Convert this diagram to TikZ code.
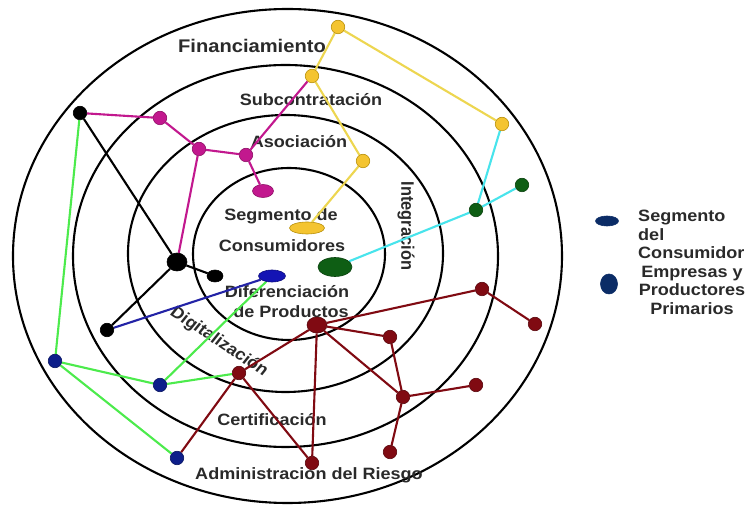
\documentclass[tikz,border=0pt]{standalone}
\usepackage{fontspec}
\setmainfont{Liberation Sans}
\usetikzlibrary{shapes.geometric}
\pgfdeclarelayer{back}
\pgfdeclarelayer{mid}
\pgfsetlayers{back,mid,main}
\definecolor{ylw}{HTML}{F4C430}
\definecolor{ylwd}{HTML}{B8900A}
\definecolor{ylwl}{HTML}{EDD650}
\definecolor{mag}{HTML}{C2188E}
\definecolor{magd}{HTML}{8E0F66}
\definecolor{grnl}{HTML}{4CEB4C}
\definecolor{cyn}{HTML}{48E4EC}
\definecolor{dgr}{HTML}{0E5E14}
\definecolor{nav}{HTML}{0D1E8A}
\definecolor{blul}{HTML}{2323A6}
\definecolor{blue2}{HTML}{1414B4}
\definecolor{dred}{HTML}{800A12}
\definecolor{lgn}{HTML}{0B2C66}
\definecolor{txtc}{HTML}{2A2A2A}
\tikzset{
  ring/.style={draw=black, line width=2.1pt},
  lbl/.style={font=\bfseries\fontsize{16.4}{18.5}\selectfont, text=txtc, xscale=1.1, inner sep=0pt},
  dot/.style={circle, inner sep=0pt, minimum size=13.5pt, line width=0.6pt},
  ell/.style={ellipse, inner sep=0pt, line width=0.6pt},
  yn/.style={fill=ylw, draw=ylwd},
  mn/.style={fill=mag, draw=magd},
  kn/.style={fill=black, draw=black},
  gn/.style={fill=dgr, draw=dgr!70!black},
  bn/.style={fill=nav, draw=nav!70!black},
  rn/.style={fill=dred, draw=dred!70!black},
  yl/.style={draw=ylwl, line width=2.1pt},
  ml/.style={draw=mag, line width=2.1pt},
  kl/.style={draw=black, line width=2.1pt},
  bl/.style={draw=blul, line width=2.1pt},
  gl/.style={draw=grnl, line width=2.1pt},
  cl/.style={draw=cyn, line width=2.1pt},
  rl/.style={draw=dred, line width=2.1pt}
}
\begin{document}
\begin{tikzpicture}[x=1pt,y=-1pt]
\useasboundingbox (0,0) rectangle (748,510);

\begin{pgfonlayer}{back}
\fill[white] (0,0) rectangle (748,510);
\draw[ring] (287.5,256) ellipse [x radius=274.5pt, y radius=247pt];
\draw[ring] (285.5,256) ellipse [x radius=212.5pt, y radius=191pt];
\draw[ring] (285.5,253.5) ellipse [x radius=157.5pt, y radius=138.5pt];
\draw[ring] (289,254) ellipse [x radius=96pt, y radius=86pt];

\node[lbl, font=\bfseries\fontsize{18.3}{20}\selectfont, anchor=base] (t1) at (252,53) {Financiamiento};
\node[lbl, anchor=base] (t2) at (311,106) {Subcontratación};
\node[lbl, anchor=base] (t3) at (299,148) {Asociación};
\node[lbl, anchor=base] (t4) at (281,221) {Segmento de};
\node[lbl, anchor=base] (t5) at (282,252) {Consumidores};
\node[lbl, anchor=base] (t6) at (287,298) {Diferenciación};
\node[lbl, anchor=base] (t7) at (291,318) {de Productos};
\node[lbl, anchor=base] (t8) at (272,426) {Certificación};
\node[lbl, anchor=base] (t9) at (309,480) {Administracion del Riesgo};
\node[lbl, rotate=-90, anchor=center] (t10) at (406,226) {Integración};
\node[lbl, rotate=-36, anchor=center] (t11) at (219,342) {Digitalización};

\node[lbl, align=left, anchor=north west] (lt1) at (638,210) {Segmento\\del\\Consumidor};
\node[lbl, align=center, anchor=north] (lt2) at (692,266) {Empresas y\\Productores\\Primarios};
\end{pgfonlayer}

% nodes
\node[dot, yn] (Y1) at (338,27) {};
\node[dot, yn] (Y2) at (312,76) {};
\node[dot, yn] (Y3) at (363,161) {};
\node[ell, yn, minimum width=35pt, minimum height=12pt] (Y4) at (307,228) {};
\node[dot, yn] (Y5) at (502,124) {};

\node[dot, mn] (M1) at (160,118) {};
\node[dot, mn] (M2) at (199,149) {};
\node[dot, mn] (M3) at (246,155) {};
\node[ell, mn, minimum width=21pt, minimum height=13pt] (M4) at (263,191) {};

\node[dot, kn] (K1) at (80,113) {};
\node[ell, kn, minimum width=20pt, minimum height=18pt] (K2) at (177,262) {};
\node[ell, kn, minimum width=16pt, minimum height=12pt] (K3) at (215,276) {};
\node[dot, kn] (K4) at (107,330) {};

\node[ell, gn, minimum width=34pt, minimum height=19pt] (DG) at (335,267) {};
\node[dot, gn] (DG1) at (476,210) {};
\node[dot, gn] (DG2) at (522,185) {};

\node[ell, fill=blue2, draw=blue2!70!black, line width=0.6pt, minimum width=27pt, minimum height=12pt, inner sep=0pt] (B) at (272,276) {};
\node[dot, bn] (BN1) at (55,361) {};
\node[dot, bn] (BN2) at (160,385) {};
\node[dot, bn] (BN3) at (177,458) {};

\node[dot, rn] (R1) at (239,373) {};
\node[ell, rn, minimum width=20pt, minimum height=16pt] (R2) at (317,325) {};
\node[dot, rn] (R3) at (390,337) {};
\node[dot, rn] (R4) at (403,397) {};
\node[dot, rn] (R5) at (476,385) {};
\node[dot, rn] (R6) at (390,452) {};
\node[dot, rn] (R7) at (312,463) {};
\node[dot, rn] (R8) at (482,289) {};
\node[dot, rn] (R9) at (535,324) {};

% legend symbols
\node[ell, fill=lgn, draw=lgn, minimum width=23pt, minimum height=10pt] (L1) at (607,221) {};
\node[ell, fill=lgn, draw=lgn, minimum width=17pt, minimum height=20pt] (L2) at (609,284) {};

\begin{pgfonlayer}{mid}
\draw[yl] (Y1) -- (Y2);
\draw[yl] (Y2) -- (Y3);
\draw[yl] (Y3) -- (Y4);
\draw[yl] (Y1) -- (Y5);

\draw[ml] (K1) -- (M1);
\draw[ml] (M1) -- (M2);
\draw[ml] (M2) -- (M3);
\draw[ml] (M3) -- (Y2);
\draw[ml] (M3) -- (M4);
\draw[ml] (M2) -- (K2);

\draw[kl] (K1) -- (K2);
\draw[kl] (K2) -- (K3);
\draw[kl] (K2) -- (K4);

\draw[bl] (K4) -- (B);

\draw[gl] (K1) -- (BN1);
\draw[gl] (BN1) -- (BN2);
\draw[gl] (BN1) -- (BN3);
\draw[gl] (BN2) -- (R1);
\draw[gl] (BN2) -- (B);

\draw[cl] (DG) -- (DG1);
\draw[cl] (DG1) -- (DG2);
\draw[cl] (DG1) -- (Y5);

\draw[rl] (BN3) -- (R1);
\draw[rl] (R1) -- (R2);
\draw[rl] (R1) -- (R7);
\draw[rl] (R2) -- (R7);
\draw[rl] (R2) -- (R3);
\draw[rl] (R2) -- (R4);
\draw[rl] (R3) -- (R4);
\draw[rl] (R2) -- (R8);
\draw[rl] (R8) -- (R9);
\draw[rl] (R4) -- (R5);
\draw[rl] (R4) -- (R6);
\end{pgfonlayer}
\end{tikzpicture}
\end{document}
